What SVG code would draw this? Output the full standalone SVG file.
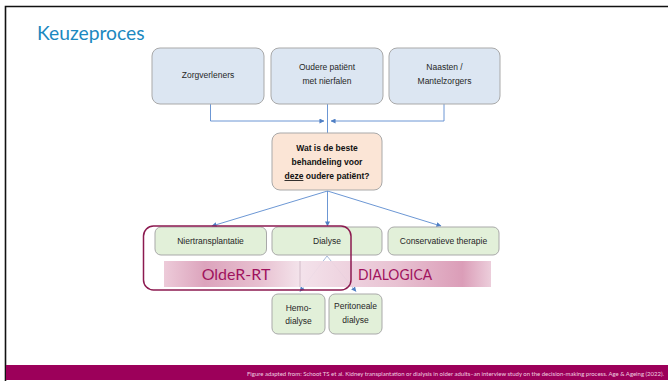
<svg xmlns="http://www.w3.org/2000/svg" width="668" height="381" viewBox="0 0 668 381">
  <defs>
    <marker id="arrow" viewBox="0 0 6 6" refX="5.5" refY="3" markerWidth="5" markerHeight="5" orient="auto" markerUnits="userSpaceOnUse">
      <path d="M0 0 L6 3 L0 6 Z" fill="#4f7fc4"/>
    </marker>
    <linearGradient id="bandLeft" x1="0" y1="0" x2="1" y2="0">
      <stop offset="0" stop-color="#ecc8d7"/>
      <stop offset="0.3" stop-color="#da9fb9"/>
      <stop offset="0.7" stop-color="#e6bccd"/>
      <stop offset="1" stop-color="#f3e2ea"/>
    </linearGradient>
    <linearGradient id="bandRight" x1="0" y1="0" x2="1" y2="0">
      <stop offset="0" stop-color="#f3e1ea"/>
      <stop offset="0.5" stop-color="#e7bfd0"/>
      <stop offset="0.85" stop-color="#d998b4"/>
      <stop offset="1" stop-color="#ebcbd9"/>
    </linearGradient>
    <style>
      .box { stroke: #a9a9a9; stroke-width: 1; }
      .blue { fill: #dce6f2; }
      .peach { fill: #fbe5d6; }
      .green { fill: #e2f0d9; }
      .lbl { font-family: "Liberation Sans", Arial, sans-serif; font-size: 8.5px; fill: #262626; text-anchor: middle; }
      .q { font-weight: bold; fill: #111; }
      .edge { fill: none; stroke: #5b8bcf; stroke-width: 0.9; }
      .band-txt { font-family: Lato, "Open Sans", sans-serif; font-size: 16px; fill: #a0135e; text-anchor: middle; }
    </style>
  </defs>

  <rect width="668" height="381" fill="#ffffff"/>
  <!-- slide frame -->
  <path d="M5.5 381 V6.5 H668" fill="none" stroke="#111" stroke-width="1.6"/>

  <!-- title -->
  <text x="37" y="40" font-family="Lato, 'Open Sans', sans-serif" font-size="19.3" fill="#1b88c0">Keuzeproces</text>

  <!-- connectors -->
  <g id="connectors">
    <path class="edge" d="M210.5 104 V121 H324" marker-end="url(#arrow)"/>
    <path class="edge" d="M444 104 V121 H331" marker-end="url(#arrow)"/>
    <path class="edge" d="M327.5 104 V133"/>
    <path class="edge" d="M327.5 191 L212 226" marker-end="url(#arrow)"/>
    <path class="edge" d="M327.5 191 V226" marker-end="url(#arrow)"/>
    <path class="edge" d="M327.5 191 L441 226" marker-end="url(#arrow)"/>
    <path class="edge" d="M327 256 L300 291.5" marker-end="url(#arrow)" style="stroke:#9db3d6"/>
    <path class="edge" d="M327 256 L356 291.5" marker-end="url(#arrow)" style="stroke:#9db3d6"/>
  </g>

  <!-- top row -->
  <g id="zorgverleners">
    <rect class="box blue" x="152" y="48" width="112" height="56" rx="8"/>
    <text class="lbl" x="208" y="78">Zorgverleners</text>
  </g>
  <g id="patient">
    <rect class="box blue" x="271" y="48" width="112" height="56" rx="8"/>
    <text class="lbl" x="327" y="70">Oudere patiënt</text>
    <text class="lbl" x="327" y="84">met nierfalen</text>
  </g>
  <g id="naasten">
    <rect class="box blue" x="389" y="48" width="111" height="56" rx="8"/>
    <text class="lbl" x="444.5" y="70">Naasten /</text>
    <text class="lbl" x="444.5" y="84">Mantelzorgers</text>
  </g>

  <!-- question -->
  <g id="vraag">
    <rect class="box peach" x="272" y="133" width="110" height="57" rx="8"/>
    <text class="lbl q" x="327" y="151">Wat is de beste</text>
    <text class="lbl q" x="327" y="165">behandeling voor</text>
    <text class="lbl q" x="327" y="179"><tspan text-decoration="underline">deze</tspan> oudere patiënt?</text>
  </g>

  <!-- treatment options -->
  <g id="niertransplantatie">
    <rect class="box green" x="155" y="227" width="111.5" height="28" rx="6"/>
    <text class="lbl" x="210.5" y="244">Niertransplantatie</text>
  </g>
  <g id="dialyse">
    <rect class="box green" x="272" y="227" width="110" height="28" rx="6"/>
    <text class="lbl" x="327" y="244">Dialyse</text>
  </g>
  <g id="conservatief">
    <rect class="box green" x="388" y="227" width="111" height="28" rx="6"/>
    <text class="lbl" x="443.5" y="244">Conservatieve therapie</text>
  </g>

  <!-- study bands -->
  <g id="studies">
    <rect x="164" y="261" width="136" height="26" fill="url(#bandLeft)" opacity="0.95"/>
    <rect x="300" y="261" width="191" height="26" fill="url(#bandRight)" opacity="0.95"/>
    <line x1="300" y1="261" x2="300" y2="287" stroke="#c9b3bf" stroke-width="0.8"/>
    <text class="band-txt" x="236" y="280">OldeR-RT</text>
    <text class="band-txt" x="395" y="280" style="font-size:15px" textLength="74" lengthAdjust="spacingAndGlyphs">DIALOGICA</text>
  </g>
  <g id="older-rt">
    <rect x="143.5" y="226" width="207.5" height="64" rx="10" fill="none" stroke="#8c1a50" stroke-width="1.5"/>
  </g>

  <!-- dialysis types -->
  <g id="hemodialyse">
    <rect class="box green" x="272" y="294" width="53" height="40" rx="6"/>
    <text class="lbl" x="298.5" y="311">Hemo-</text>
    <text class="lbl" x="298.5" y="324">dialyse</text>
  </g>
  <g id="peritoneaal">
    <rect class="box green" x="329" y="294" width="53" height="40" rx="6"/>
    <text class="lbl" x="355.5" y="309">Peritoneale</text>
    <text class="lbl" x="355.5" y="323">dialyse</text>
  </g>

  <!-- footer -->
  <rect x="6" y="365" width="662" height="15" fill="#9c005a"/>
  <text x="664" y="376" text-anchor="end" font-family="Lato, 'Open Sans', sans-serif" font-size="6" fill="#f1cfe0" textLength="417" lengthAdjust="spacingAndGlyphs">Figure adapted from: Schoot TS et al. Kidney transplantation or dialysis in older adults–an interview study on the decision-making process. Age &amp; Ageing (2022).</text>
</svg>
